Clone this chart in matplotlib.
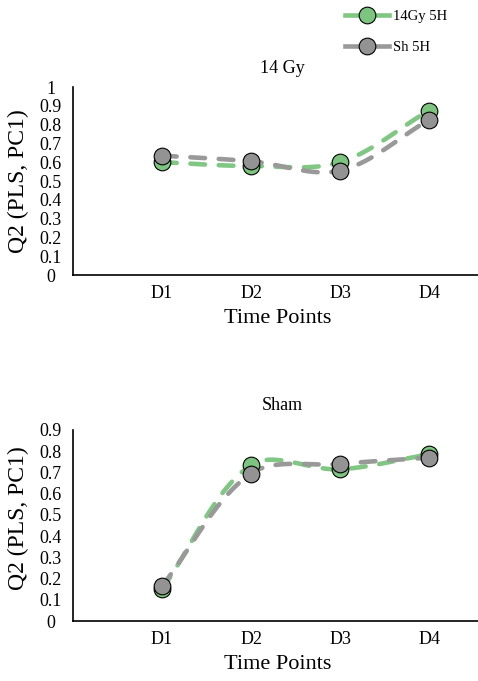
import numpy as np
import matplotlib
matplotlib.use("Agg")
import matplotlib.pyplot as plt
from matplotlib.lines import Line2D

plt.rcParams['font.family'] = ['Liberation Serif', 'DejaVu Serif']

categories = ["D1", "D2", "D3", "D4"]
series_names = ["14Gy 5H", "Sh 5H"]
gy14_green = [0.60, 0.58, 0.60, 0.875]
gy14_gray = [0.635, 0.605, 0.555, 0.825]
sham_green = [0.15, 0.735, 0.715, 0.785]
sham_gray = [0.165, 0.695, 0.74, 0.77]
yticks_top = [0, 0.1, 0.2, 0.3, 0.4, 0.5, 0.6, 0.7, 0.8, 0.9, 1]
yticks_bot = [0, 0.1, 0.2, 0.3, 0.4, 0.5, 0.6, 0.7, 0.8, 0.9]

GREEN = "#80c783"
GRAY = "#999999"
MFC_GREEN = "#7cc47f"
MFC_GRAY = "#939393"


def smooth(ax, x, y, n=40):
    """Excel-like smoothing: Bezier segments, tangents scaled by chord length in screen space."""
    pts = ax.transData.transform(np.column_stack([x, y]))
    Pp = np.vstack([pts[0], pts, pts[-1]])
    out = []
    t = np.linspace(0, 1, n)[:, None]
    for i in range(len(pts) - 1):
        p0, p1, p2, p3 = Pp[i], Pp[i + 1], Pp[i + 2], Pp[i + 3]
        d01 = np.linalg.norm(p1 - p0); d12 = np.linalg.norm(p2 - p1); d23 = np.linalg.norm(p3 - p2)
        f1 = d12 / (d01 + d12) / 3.0 if (d01 + d12) > 0 else 0
        f2 = d12 / (d12 + d23) / 3.0 if (d12 + d23) > 0 else 0
        c1 = p1 + (p2 - p0) * f1
        c2 = p2 - (p3 - p1) * f2
        b = ((1 - t) ** 3) * p1 + 3 * ((1 - t) ** 2) * t * c1 + 3 * (1 - t) * t ** 2 * c2 + t ** 3 * p2
        out.append(b if i == 0 else b[1:])
    B = ax.transData.inverted().transform(np.vstack(out))
    return B[:, 0], B[:, 1]


fig = plt.figure(figsize=(4.78, 6.81), dpi=100)
ax1 = fig.add_axes([73 / 478, 1 - 275 / 681, 405 / 478, 188 / 681])
ax2 = fig.add_axes([73 / 478, 1 - 621 / 681, 405 / 478, 191 / 681])

xs = np.arange(len(categories))


def draw(ax, g, s, yt, ymax, title, title_y, ylab_y):
    ax.set_xlim(-1, 3.55)
    ax.set_ylim(0, ymax)
    for vals, lc, mfc in [(g, GREEN, MFC_GREEN), (s, GRAY, MFC_GRAY)]:
        sx, sy = smooth(ax, xs, vals)
        ax.plot(sx, sy, color=lc, lw=3.3, linestyle=(0, (3.2, 3.0)),
                dash_capstyle='round', solid_capstyle='round', zorder=2)
        ax.plot(xs, vals, linestyle='none', marker='o', markersize=12,
                markerfacecolor=mfc, markeredgecolor='black', markeredgewidth=0.8, zorder=3)
    ax.set_yticks(yt)
    ax.set_yticklabels([("%g" % v) for v in yt])
    ax.set_xticks(xs)
    ax.set_xticklabels(categories)
    ax.tick_params(axis='both', length=0, labelsize=13)
    ax.tick_params(axis='y', pad=16)
    ax.tick_params(axis='x', pad=7)
    for lab in ax.get_yticklabels():
        lab.set_horizontalalignment('center')
    for sp in ['top', 'right']:
        ax.spines[sp].set_visible(False)
    for sp in ['left', 'bottom']:
        ax.spines[sp].set_linewidth(1.2)
        ax.spines[sp].set_color('black')
    ax.set_ylabel("Q2 (PLS, PC1)", fontsize=17)
    ax.yaxis.set_label_coords(-0.108, ylab_y)
    ax.set_xlabel("Time Points", fontsize=16)
    ax.xaxis.set_label_coords(0.506, -0.23)
    ax.xaxis.label.set_verticalalignment('center')
    ax.text(0.516, title_y, title, transform=ax.transAxes, ha='center', va='center', fontsize=13)
    ax.patch.set_alpha(0)


draw(ax1, gy14_green, gy14_gray, yticks_top, 1.0, "14 Gy", 1.10, 0.5)
draw(ax2, sham_green, sham_gray, yticks_bot, 0.9, "Sham", 1.13, 0.54)

handles = [
    Line2D([], [], color=GREEN, lw=3.3, marker='o', markersize=12,
           markerfacecolor=MFC_GREEN, markeredgecolor='black', markeredgewidth=0.8),
    Line2D([], [], color=GRAY, lw=3.3, marker='o', markersize=12,
           markerfacecolor=MFC_GRAY, markeredgecolor='black', markeredgewidth=0.8),
]
fig.legend(handles, series_names, loc='upper left', bbox_to_anchor=(335 / 478, 1 - 0 / 681),
           frameon=False, fontsize=10.5, handlelength=3.0, handletextpad=0.3,
           labelspacing=1.2, borderaxespad=0.3)

fig.savefig("out.png", dpi=100)
